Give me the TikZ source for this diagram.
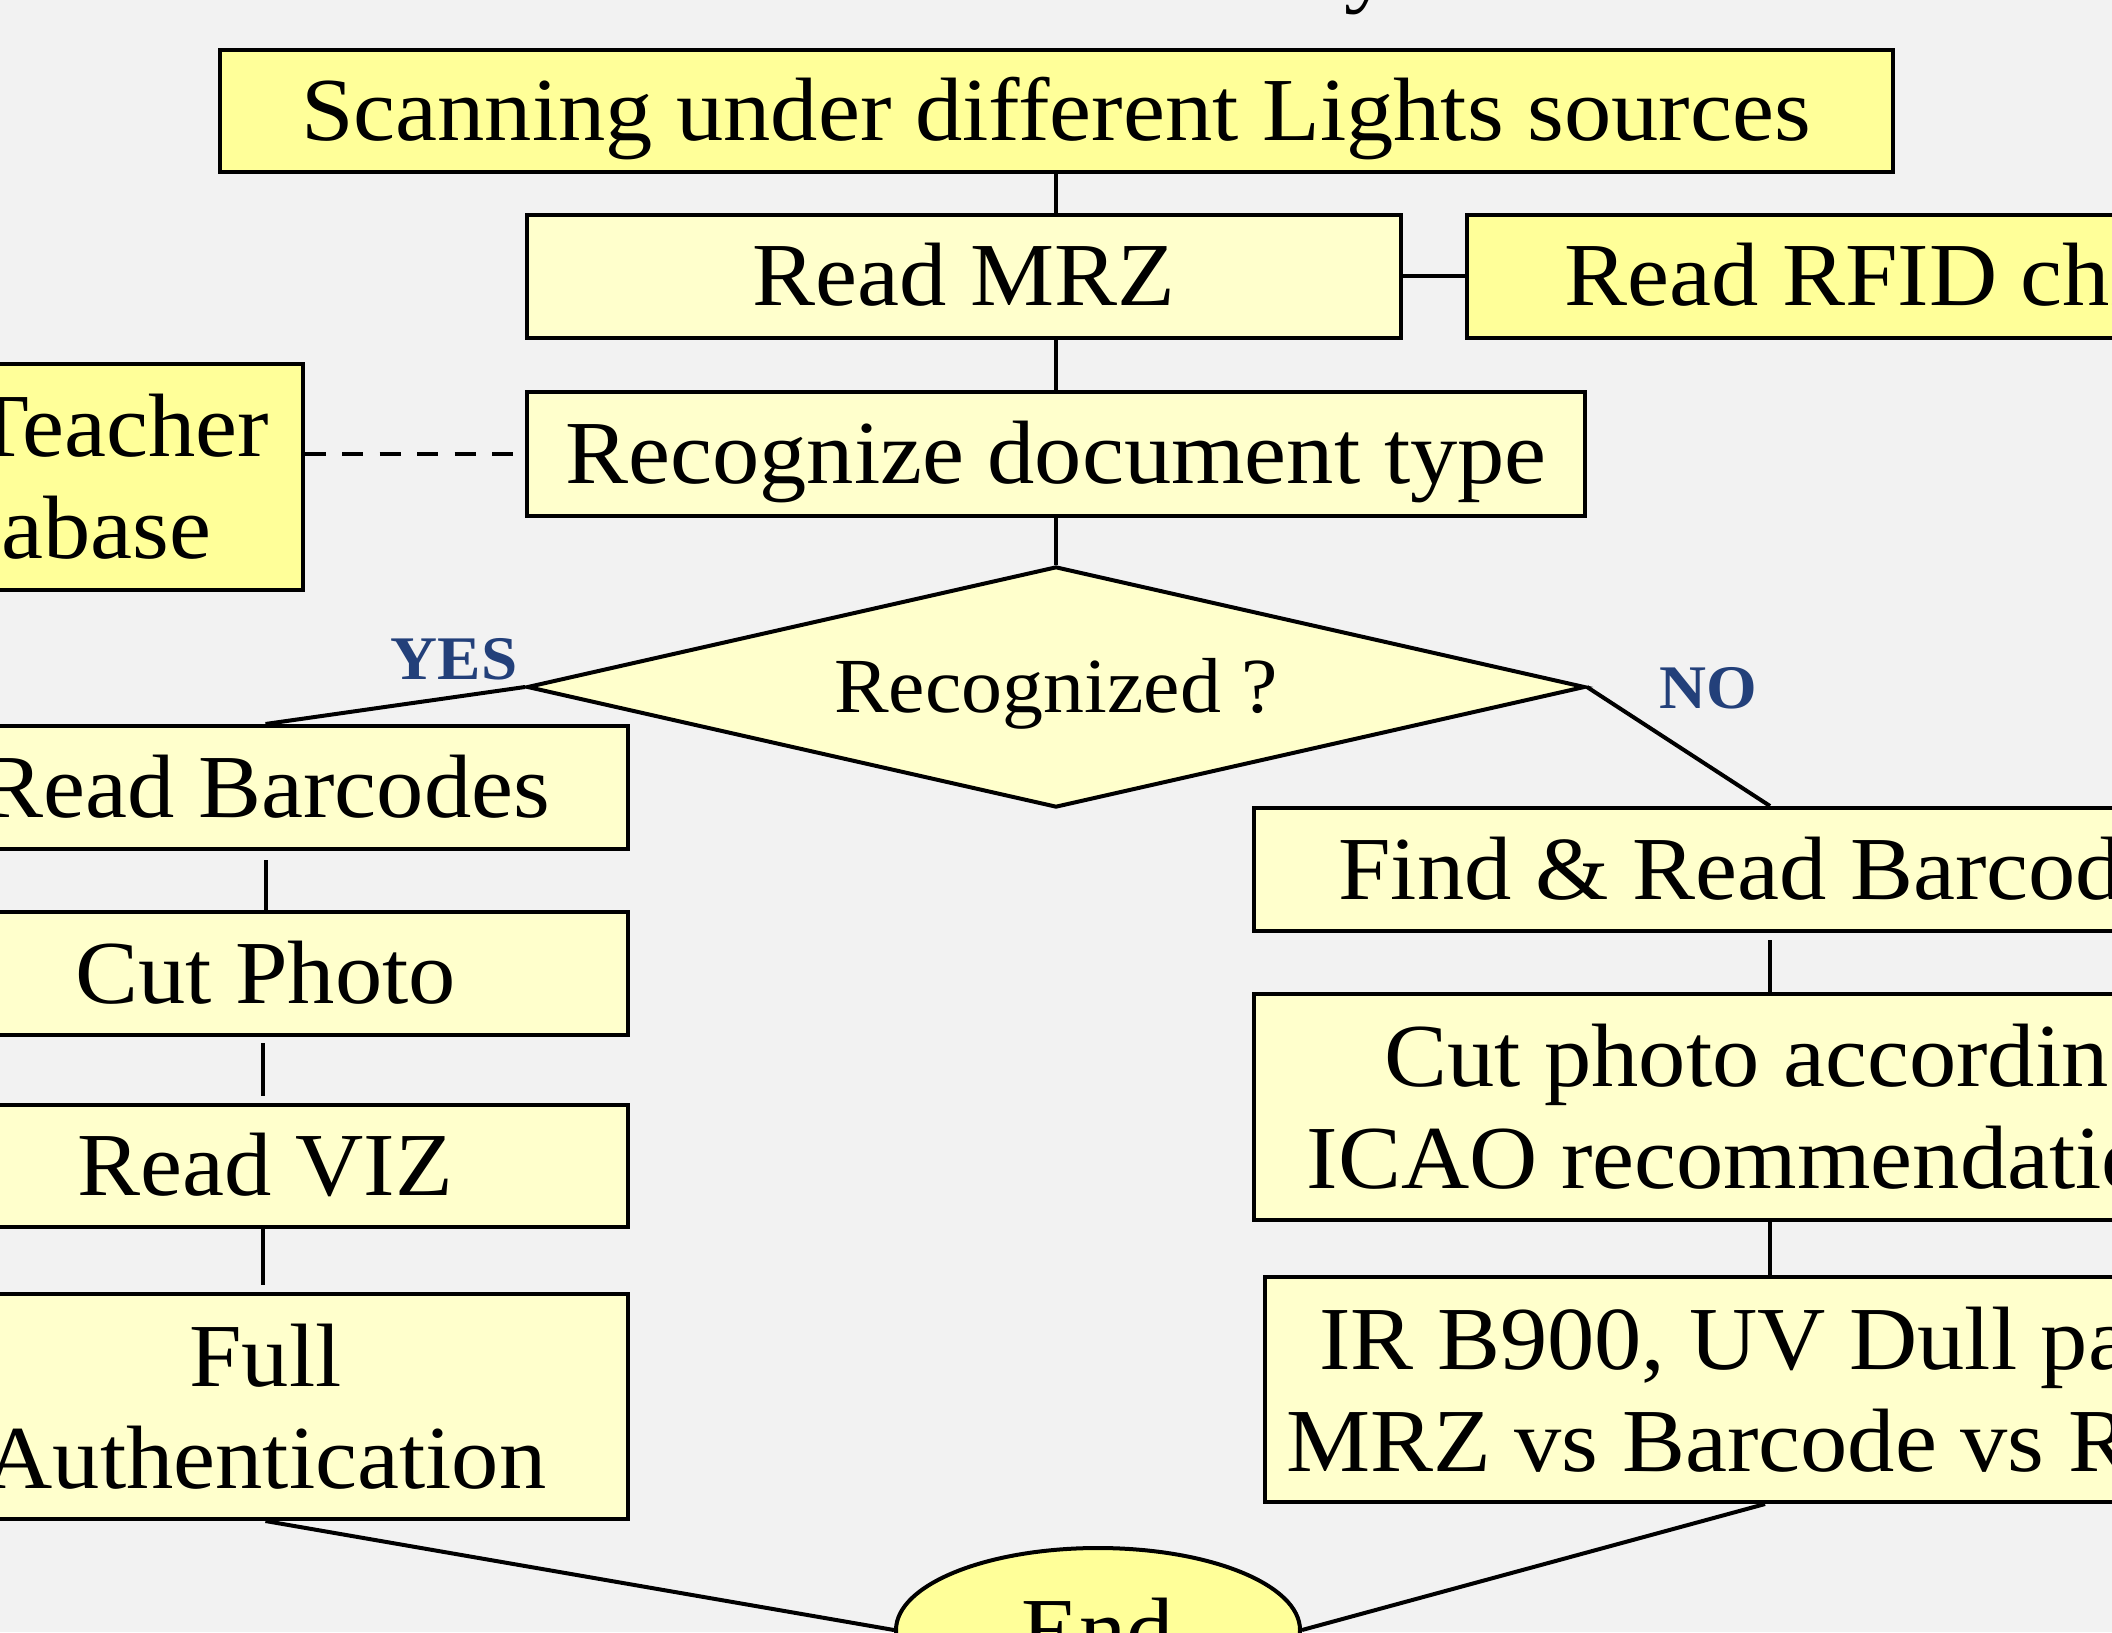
\documentclass[tikz,border=0pt]{standalone}
\usepackage{fontspec}
\setmainfont{Liberation Serif}[FakeStretch=1.05]
\usetikzlibrary{shapes.geometric}
\definecolor{bg}{HTML}{F2F2F2}
\definecolor{ydark}{HTML}{FFFF99}
\definecolor{ylight}{HTML}{FFFFCC}
\definecolor{lblue}{RGB}{35,64,122}
\begin{document}
\begin{tikzpicture}[x=0.5pt,y=-0.5pt,
  box/.style={draw, line width=2pt, fill=ylight, inner sep=0pt, align=center,
    font=\fontsize{45}{51}\selectfont},
  darkbox/.style={box, fill=ydark},
  oneline/.style={text height=36pt, text depth=6.4pt},
  conn/.style={line width=2pt},
  lbl/.style={text=lblue, font=\fontsize{31}{36}\selectfont\bfseries, inner sep=0pt}]
\fill[bg] (0,0) rectangle (2112,1632);
\useasboundingbox (0,0) rectangle (2112,1632);
% title remnant
\node[font=\fontsize{45}{51}\selectfont, anchor=base, inner sep=0pt] (title) at (1368,-4) {y};
% top
\node[darkbox, oneline, minimum width=836.5pt, minimum height=61pt] (scan) at (1056,111) {Scanning under different Lights sources};
\node[box, oneline, minimum width=437pt, minimum height=61.5pt] (mrz) at (964,276) {Read MRZ};
\node[darkbox, oneline, minimum width=407pt, minimum height=61.5pt] (rfid) at (1874,276) {Read RFID chip};
\node[box, oneline, minimum width=529pt, minimum height=62pt] (rec) at (1056,454) {Recognize document type};
\node[darkbox, minimum width=251.5pt, minimum height=113pt, text width=218pt, align=right] (teacher) at (51,477) {Teacher\\database\rule{29pt}{0pt}};
\node[diamond, draw, line width=2pt, fill=ylight, inner sep=0pt, shape aspect=4.4,
  text height=30pt, text depth=4.4pt,
  minimum width=529pt, minimum height=120.5pt, font=\fontsize{39}{44}\selectfont] (dia) at (1056,687) {Recognized ?};
\node[lbl] (yes) at (454,659) {YES};
\node[lbl] (no) at (1708,688) {NO};
% left column
\node[box, oneline, minimum width=362.5pt, minimum height=61.5pt] (barc) at (265.5,787.5) {Read Barcodes};
\node[box, oneline, minimum width=362.5pt, minimum height=61.5pt] (cut) at (265.5,973.5) {Cut Photo};
\node[box, oneline, minimum width=362.5pt, minimum height=61pt] (viz) at (265.5,1166) {Read VIZ};
\node[box, minimum width=362.5pt, minimum height=112.5pt] (full) at (265.5,1406.5) {Full\\Authentication};
% right column
\node[box, oneline, minimum width=516pt, minimum height=61.5pt] (find) at (1770,869.5) {Find \& Read Barcodes};
\node[box, minimum width=516pt, minimum height=113pt] (icao) at (1770,1107) {Cut photo according\\ICAO recommendations};
\node[box, minimum width=520pt, minimum height=112.5pt] (ir) at (1785,1389.5) {IR B900, UV Dull paper\\MRZ vs Barcode vs RFID};
% end
\node[ellipse, draw, line width=2pt, fill=ydark, inner sep=0pt, minimum width=202pt, minimum height=82pt,
  font=\fontsize{45}{51}\selectfont] (end) at (1098,1630) {End};
% connectors
\draw[conn] (scan.south) -- (scan.south |- mrz.north);
\draw[conn] (mrz.east) -- (rfid.west);
\draw[conn] (scan.south |- mrz.south) -- (rec.north);
\draw[conn, dash pattern=on 10.5pt off 8.25pt] (teacher.east |- rec.west) -- (rec.west);
\draw[conn] (rec.south) -- (dia.north);
\draw[conn] (dia.west) -- (barc.north);
\draw[conn, shorten <=4.5pt] (barc.south) -- (cut.north);
\draw[conn, shorten <=3pt, shorten >=3.5pt] ([xshift=-1.5pt]cut.south) -- ([xshift=-1.5pt]viz.north);
\draw[conn, shorten >=3.5pt] ([xshift=-1.5pt]viz.south) -- ([xshift=-1.5pt]full.north);
\draw[conn] (full.south) -- (end.west);
\draw[conn] (dia.east) -- (find.north);
\draw[conn, shorten <=3.5pt] (find.south) -- (icao.north);
\draw[conn] (icao.south) -- (icao.south |- ir.north);
\draw[conn] ([xshift=-10pt]ir.south) -- (end.east);
\end{tikzpicture}
\end{document}
